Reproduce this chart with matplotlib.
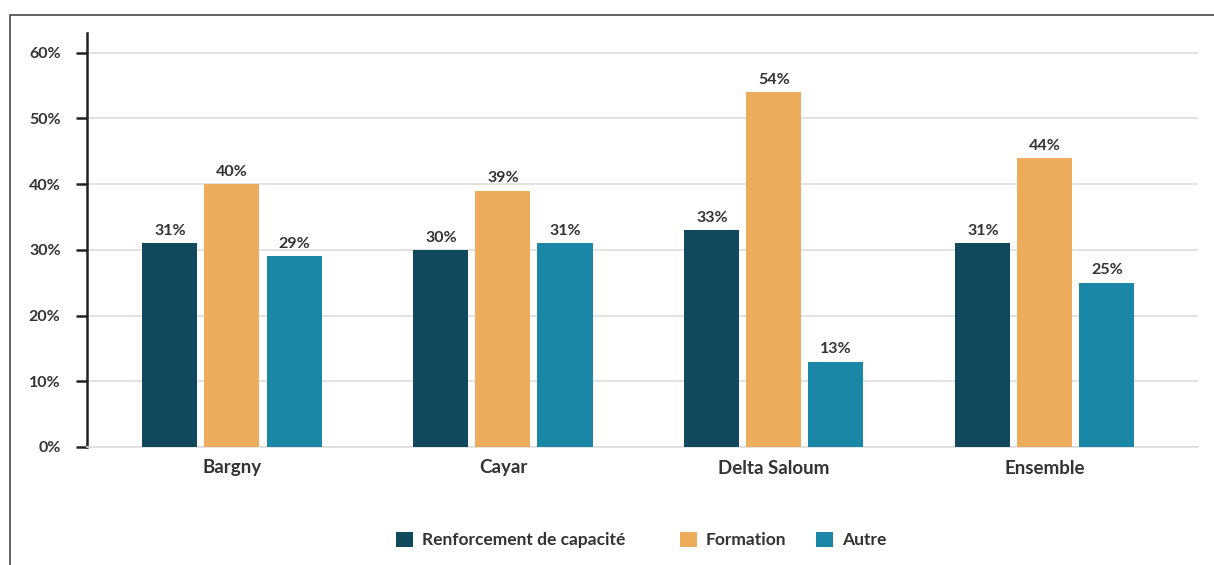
import matplotlib.pyplot as plt
import numpy as np
from matplotlib.patches import Rectangle

# data
sites = ["Bargny", "Cayar", "Delta Saloum", "Ensemble"]
renforcement = [31, 30, 33, 31]
formation = [40, 39, 54, 44]
autre = [29, 31, 13, 25]
series_names = ["Renforcement de capacité", "Formation", "Autre"]
colors = ["#10485E", "#EDAC5C", "#1A87A6"]

plt.rcParams['font.family'] = ['Lato', 'DejaVu Sans']
txt_color = "#333333"

fig = plt.figure(figsize=(12.14, 5.65), dpi=100)
ax = fig.add_axes([87/1214, 1-447/565, (1198-87)/1214, (447-33)/565])

# outer frame of the figure (only top and left edges visible)
fig.patches.append(Rectangle((10/1214, -0.1), 1.2, 1-15/565+0.1, transform=fig.transFigure,
                             fill=False, edgecolor="#555555", linewidth=1.3))

x = np.arange(len(sites))
width = 0.203
step = 0.229
all_series = [renforcement, formation, autre]
handles = []
for i, vals in enumerate(all_series):
    bars = ax.bar(x + (i-1)*step, vals, width, color=colors[i], label=series_names[i], zorder=3)
    handles.append(bars)
    for b, v in zip(bars, vals):
        ax.text(b.get_x()+b.get_width()/2, v+0.8, str(v)+"%", ha="center", va="bottom",
                fontsize=11.5, fontweight="bold", color=txt_color)

ax.set_ylim(0, 63)
ax.set_xlim(-0.535, 3.565)
ax.set_yticks([0, 10, 20, 30, 40, 50, 60])
ax.set_yticklabels([str(t)+"%" for t in [0, 10, 20, 30, 40, 50, 60]], fontweight="bold")
ax.yaxis.grid(True, color="#DDDDDD", linewidth=1.2, zorder=0)
ax.set_axisbelow(True)
ax.set_xticks(x)
ax.set_xticklabels(sites, fontsize=13.5, fontweight="bold", color=txt_color)
ax.tick_params(axis="x", length=0, pad=9)
ax.tick_params(axis="y", length=8, width=1.8, color="#222222", labelsize=11.5, labelcolor=txt_color, pad=11)
for s in ["top", "right"]:
    ax.spines[s].set_visible(False)
ax.spines["left"].set_linewidth(1.8)
ax.spines["left"].set_color("#222222")
ax.spines["bottom"].set_color("#DDDDDD")
ax.spines["bottom"].set_linewidth(1.2)

# legend entries placed one by one, as in the reference
leg_x = [387, 671, 807]
for h, name, lx in zip(handles, series_names, leg_x):
    leg = fig.legend([h], [name], loc="center left", bbox_to_anchor=(lx/1214, 1-540/565), frameon=False,
                     handlelength=1.0, handleheight=1.0, handletextpad=0.5, borderpad=0.0,
                     prop={"size": 12.5, "weight": "bold"})
    for t in leg.get_texts():
        t.set_color(txt_color)

fig.savefig("out.png", dpi=100)
